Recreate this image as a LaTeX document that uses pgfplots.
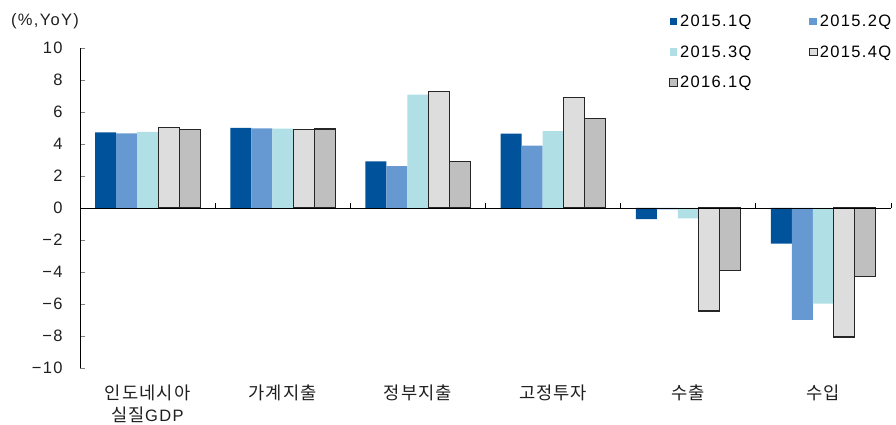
\documentclass[border=0pt]{standalone}
\usepackage{pgfplots}
\pgfplotsset{compat=1.18}
\usepackage{fontspec}
\setmainfont{Liberation Sans}[LetterSpace=8]
\newfontfamily\kr{Noto Sans CJK KR}[Scale=1.07, LetterSpace=6]

\definecolor{qone}{RGB}{0,83,155}
\definecolor{qtwo}{RGB}{102,153,210}
\definecolor{qthree}{RGB}{176,223,229}
\definecolor{qfour}{RGB}{221,221,221}
\definecolor{qnext}{RGB}{191,191,191}

\newcommand{\chartfont}{\fontsize{16.5bp}{22bp}\selectfont}

\begin{document}
\begin{tikzpicture}
\useasboundingbox (-80bp,-57bp) rectangle (816bp,368bp);
\begin{axis}[
  at={(0,0)}, anchor=south west,
  scale only axis, width=811bp, height=320bp,
  ybar=0pt, bar width=21bp,
  ymin=-10, ymax=10,
  ytick={-10,-8,...,10},
  yticklabels={−10,−8,−6,−4,−2,0,2,4,6,8,10},
  xmin=-0.5, xmax=5.5,
  xtick={0,1,2,3,4,5},
  xticklabels={{{\kr 인도네시아}\\{\kr 실질}GDP},{\kr 가계지출},{\kr 정부지출},{\kr 고정투자},{\kr 수출},{\kr 수입}},
  axis y line*=left, axis x line*=bottom,
  x axis line style={draw=none},
  y axis line style={line width=0.9bp, -},
  xtick style={draw=none},
  ytick style={line width=0.9bp},
  tick align=inside, major tick length=5bp,
  tick label style={font=\chartfont, text=black!88},
  xticklabel style={align=center, yshift=-13bp},
  yticklabel style={xshift=-14bp},
  clip=false,
  legend style={at={(0.7226,1.116)}, anchor=north west, draw=none, fill=none,
    font=\chartfont, row sep=13.5bp,
    nodes={inner xsep=2.5bp},
    /tikz/every even column/.append style={column sep=55bp}},
  legend columns=2, legend cell align=left,
  legend image code/.code={\path[#1, line width=0.9bp] (0bp,-3.8bp) rectangle (7.6bp,3.8bp);},
]
% quarterly growth by expenditure component (%, YoY)
\addplot[fill=qone, draw=none] coordinates
  {(0,4.72) (1,5.01) (2,2.91) (3,4.65) (4,-0.69) (5,-2.22)};
\addplot[fill=qtwo, draw=none] coordinates
  {(0,4.67) (1,4.97) (2,2.61) (3,3.90) (4,-0.08) (5,-7.00)};
\addplot[fill=qthree, draw=none] coordinates
  {(0,4.75) (1,4.96) (2,7.09) (3,4.80) (4,-0.65) (5,-5.98)};
\addplot[fill=qfour, draw=black!85, line width=1.1bp] coordinates
  {(0,5.04) (1,4.92) (2,7.29) (3,6.90) (4,-6.44) (5,-8.06)};
\addplot[fill=qnext, draw=black!85, line width=1.1bp] coordinates
  {(0,4.92) (1,4.94) (2,2.90) (3,5.57) (4,-3.88) (5,-4.27)};
\legend{2015.1Q,2015.2Q,2015.3Q,2015.4Q,2016.1Q}

% zero line with group separators
\draw[line width=0.9bp] (axis cs:-0.5,0) -- (axis cs:5.5,0);
\pgfplotsinvokeforeach{0.5,1.5,2.5,3.5,4.5,5.5}{
  \draw[line width=0.9bp] (axis cs:#1,0) -- ++(0bp,5bp);
}
\node[font=\chartfont, text=black!88] at (rel axis cs:0,1) [xshift=-35bp, yshift=27bp] {(\%,YoY)};
\end{axis}
\end{tikzpicture}
\end{document}
